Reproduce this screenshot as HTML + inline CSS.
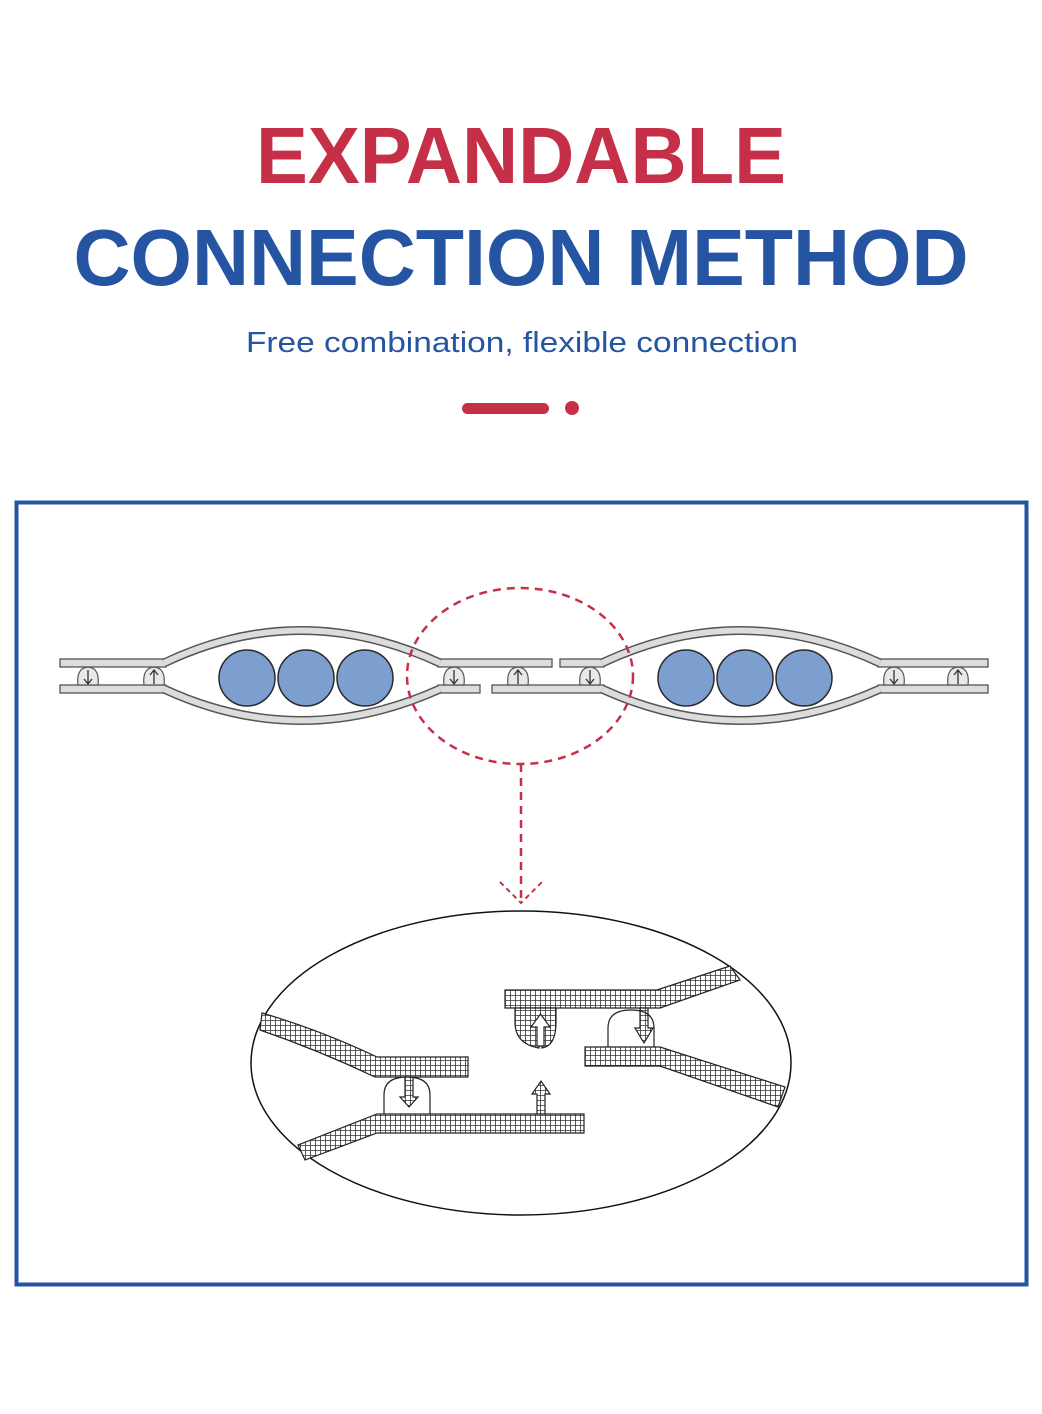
<!DOCTYPE html>
<html><head><meta charset="utf-8"><style>
body{margin:0;width:1042px;height:1409px;background:#fff;overflow:hidden;font-family:"Liberation Sans",sans-serif}
</style></head><body>
<svg width="1042" height="1409" viewBox="0 0 1042 1409" xmlns="http://www.w3.org/2000/svg">
<defs>
<pattern id="g" width="5" height="5" patternUnits="userSpaceOnUse">
<rect width="5" height="5" fill="#fff"/><path d="M0 0H5M0 0V5" stroke="#333" stroke-width="1.6"/>
</pattern>
</defs>
<text x="521" y="183" text-anchor="middle" font-size="80" font-weight="bold" fill="#c52f48" textLength="530" lengthAdjust="spacingAndGlyphs">EXPANDABLE</text>
<text x="521" y="285" text-anchor="middle" font-size="80" font-weight="bold" fill="#2555a2" textLength="895" lengthAdjust="spacingAndGlyphs">CONNECTION METHOD</text>
<text x="522" y="352" text-anchor="middle" font-size="29" fill="#2555a2" textLength="552" lengthAdjust="spacingAndGlyphs">Free combination, flexible connection</text>
<rect x="462" y="403" width="87" height="11" rx="5.5" fill="#c52f48"/>
<circle cx="572" cy="408" r="7" fill="#c52f48"/>
<rect x="16.5" y="502.5" width="1010" height="782" fill="none" stroke="#2555a2" stroke-width="4"/>

<!-- top diagram -->
<g fill="#dcdcdc" stroke="#555" stroke-width="1.3">
<rect x="60" y="659" width="106" height="8"/><rect x="60" y="685" width="106" height="8"/>
<rect x="438" y="659" width="114" height="8"/><rect x="438" y="685" width="42" height="8"/>
<rect x="492" y="685" width="112" height="8"/><rect x="560" y="659" width="44" height="8"/>
<rect x="878" y="659" width="110" height="8"/><rect x="878" y="685" width="110" height="8"/>
</g>
<g fill="none">
<g stroke="#555" stroke-width="9">
<path d="M164 663 Q300 598 440 663"/><path d="M164 689 Q300 752 440 689"/>
<path d="M602 663 Q740 598 880 663"/><path d="M602 689 Q740 752 880 689"/>
</g>
<g stroke="#dcdcdc" stroke-width="6">
<path d="M164 663 Q300 598 440 663"/><path d="M164 689 Q300 752 440 689"/>
<path d="M602 663 Q740 598 880 663"/><path d="M602 689 Q740 752 880 689"/>
</g>
</g>
<g fill="#e8e8e8" stroke="#555" stroke-width="1.2">
<path d="M78 685 Q76 668 88 667 Q100 668 98 685Z"/><path d="M144 685 Q142 668 154 667 Q166 668 164 685Z"/>
<path d="M444 685 Q442 668 454 667 Q466 668 464 685Z"/><path d="M508 685 Q506 668 518 667 Q530 668 528 685Z"/>
<path d="M580 685 Q578 668 590 667 Q602 668 600 685Z"/><path d="M884 685 Q882 668 894 667 Q906 668 904 685Z"/>
<path d="M948 685 Q946 668 958 667 Q970 668 968 685Z"/>
</g>
<g fill="none" stroke="#333" stroke-width="1.3">
<path d="M88 670V683M84 679L88 684L92 679"/><path d="M154 684V671M150 675L154 670L158 675"/>
<path d="M454 670V683M450 679L454 684L458 679"/><path d="M518 684V671M514 675L518 670L522 675"/>
<path d="M590 670V683M586 679L590 684L594 679"/><path d="M894 670V683M890 679L894 684L898 679"/>
<path d="M958 684V671M954 675L958 670L962 675"/>
</g>
<g fill="#7c9fd0" stroke="#2a2a2a" stroke-width="1.5">
<circle cx="247" cy="678" r="28"/><circle cx="306" cy="678" r="28"/><circle cx="365" cy="678" r="28"/>
<circle cx="686" cy="678" r="28"/><circle cx="745" cy="678" r="28"/><circle cx="804" cy="678" r="28"/>
</g>
<g fill="none" stroke="#c52f48" stroke-width="2.5" stroke-dasharray="8 6">
<ellipse cx="520" cy="676" rx="113" ry="88"/>
<path d="M521 764V902"/>
</g>
<path d="M500 882L521 903L542 882" fill="none" stroke="#c52f48" stroke-width="2" stroke-dasharray="5 4"/>

<!-- detail -->
<ellipse cx="521" cy="1063" rx="270" ry="152" fill="none" stroke="#111" stroke-width="1.5"/>
<g fill="url(#g)" stroke="#222" stroke-width="1.2">
<path d="M262 1013 Q320 1030 377 1057 H468 V1077 H375 Q318 1050 260 1030Z"/>
<path d="M377 1114 H584 V1133 H377 L305 1160 L298 1145Z"/>
<path d="M537 1114 V1094 H532 L541 1081 L550 1094 H545 V1114Z"/>
<path d="M505 990 H657 L730 966 L740 980 L660 1008 H505Z"/>
<path d="M585 1047 H660 L785 1087 L778 1107 L660 1066 H585Z"/>
<path d="M515 1008 H556 V1022 Q556 1046 542 1048 V1030 H539 V1048 Q515 1044 515 1022Z"/>
<path d="M405 1077 V1097 H400 L409 1107 L418 1097 H413 V1077Z"/>
<path d="M640 1008 V1028 H635 L644 1043 L653 1028 H648 V1008Z"/>
</g>
<path d="M537 1046 V1027 H531 L540.5 1014 L550 1027 H544 V1046Z" fill="#fff" stroke="#222" stroke-width="1.2"/>
<g fill="none" stroke="#222" stroke-width="1.2">
<path d="M384 1114 V1095 Q384 1077 407 1077 Q430 1077 430 1095 V1114"/>
<path d="M608 1047 V1028 Q608 1010 631 1010 Q654 1010 654 1028 V1047"/>
</g>
</svg>
</body></html>
